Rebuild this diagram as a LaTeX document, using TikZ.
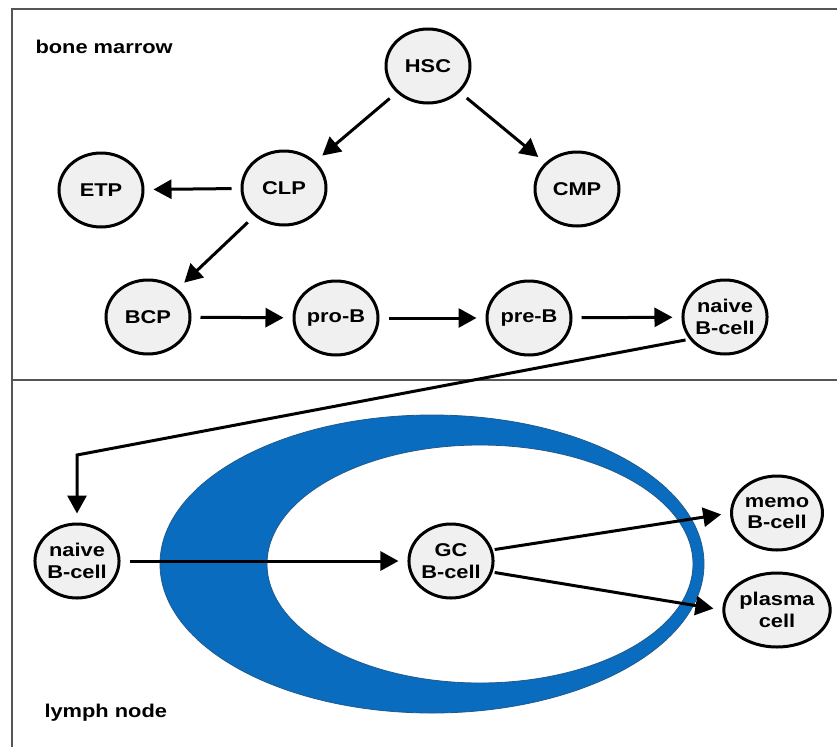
\documentclass[tikz,border=0pt]{standalone}
\usepackage{fontspec}
\setmainfont{Liberation Sans}[FakeStretch=1.18]
\usetikzlibrary{shapes.geometric,arrows.meta}
\definecolor{cellgray}{HTML}{F0F0F0}
\definecolor{ringblue}{HTML}{0A6CBE}
\definecolor{ringedge}{HTML}{1F5A8C}
\definecolor{framegray}{HTML}{555555}
\begin{document}
\begin{tikzpicture}[x=1pt, y=-1pt,
    cell/.style={ellipse, draw, line width=3pt, fill=cellgray, minimum width=84pt, minimum height=74pt, inner sep=0pt, align=center, font=\bfseries\fontsize{18.5}{21.5}\selectfont},
    arr/.style={line width=3pt, -{Triangle[length=18pt,width=19pt]}, shorten <=9pt, shorten >=9pt},
    frame/.style={line width=1.4pt, framegray},
    label/.style={anchor=west, font=\bfseries\fontsize{18.5}{21.5}\selectfont}]
  \useasboundingbox (0,0) rectangle (837,747);

  % frames
  \draw[frame] (837,9) -- (12,9) -- (12,747);
  \draw[frame] (12,380) -- (837,380);
  \node[label] (bm) at (32,47) {bone marrow};
  \node[label] (ln) at (41,713) {lymph node};

  % germinal centre ring
  \fill[ringblue, draw=ringedge, line width=0.8pt, even odd rule]
    (432,564) ellipse [x radius=272pt, y radius=149pt]
    (480,564) ellipse [x radius=213pt, y radius=119pt];

  % bone marrow
  \node[cell] (hsc) at (428,66) {HSC};
  \node[cell] (clp) at (284,188) {CLP};
  \node[cell] (cmp) at (577,189) {CMP};
  \node[cell] (etp) at (101,190) {ETP};
  \node[cell] (bcp) at (148,317) {BCP};
  \node[cell] (prob) at (336,318) {pro-B};
  \node[cell] (preb) at (529,318) {pre-B};
  \node[cell] (nb1) at (725,317) {naive\\B-cell};

  % lymph node
  \node[cell] (nb2) at (77,561) {naive\\B-cell};
  \node[cell] (gc) at (451,561) {GC\\B-cell};
  \node[cell] (memo) at (777,513) {memo\\B-cell};
  \node[cell] (plasma) at (777,610) {plasma\\cell};
  \coordinate (bend) at (77,455);

  \draw[arr] (hsc) -- (clp);
  \draw[arr] (hsc) -- (cmp);
  \draw[arr] (clp) -- (etp);
  \draw[arr] (clp) -- (bcp);
  \draw[arr] (bcp) -- (prob);
  \draw[arr] (prob) -- (preb);
  \draw[arr] (preb) -- (nb1);
  \draw[arr, shorten <=4pt] (nb1.212) -- (bend) -- (nb2);
  \draw[arr] (nb2) -- (gc);
  \draw[arr, shorten <=2pt] (gc.15) -- (memo.west);
  \draw[arr, shorten <=2pt] (gc.-15) -- (plasma.west);
\end{tikzpicture}
\end{document}
